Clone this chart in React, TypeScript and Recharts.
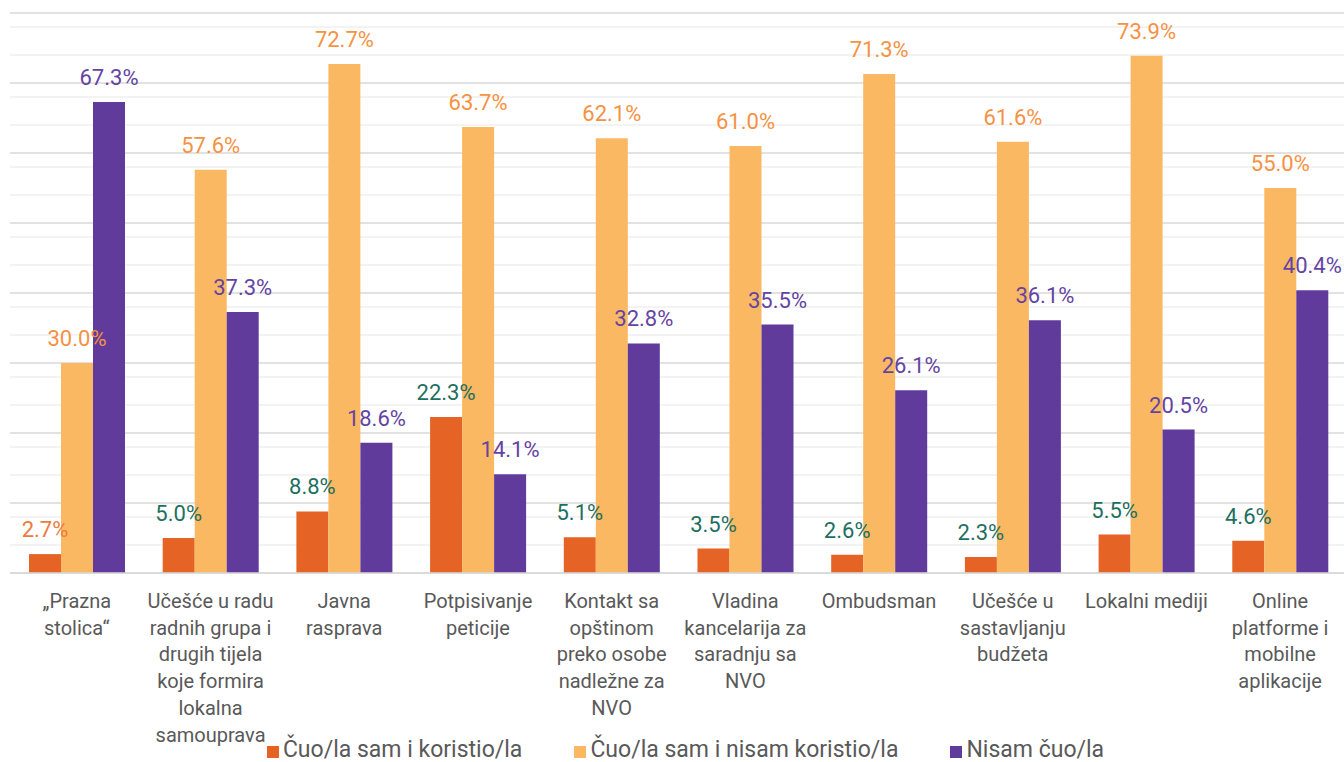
import { BarChart, Bar, XAxis, YAxis, CartesianGrid, Legend, LabelList } from "recharts";

const categories = [
  "„Prazna\nstolica“",
  "Učešće u radu\nradnih grupa i\ndrugih tijela\nkoje formira\nlokalna\nsamouprava",
  "Javna\nrasprava",
  "Potpisivanje\npeticije",
  "Kontakt sa\nopštinom\npreko osobe\nnadležne za\nNVO",
  "Vladina\nkancelarija za\nsaradnju sa\nNVO",
  "Ombudsman",
  "Učešće u\nsastavljanju\nbudžeta",
  "Lokalni mediji",
  "Online\nplatforme i\nmobilne\naplikacije",
];

const seriesNames = ["Čuo/la sam i koristio/la", "Čuo/la sam i nisam koristio/la", "Nisam čuo/la"];
const usedValues = [2.7, 5.0, 8.8, 22.3, 5.1, 3.5, 2.6, 2.3, 5.5, 4.6];
const heardValues = [30.0, 57.6, 72.7, 63.7, 62.1, 61.0, 71.3, 61.6, 73.9, 55.0];
const notHeardValues = [67.3, 37.3, 18.6, 14.1, 32.8, 35.5, 26.1, 36.1, 20.5, 40.4];

const majorTicks = [0, 10, 20, 30, 40, 50, 60, 70, 80];
const minorTicks = [
  2, 4, 6, 8, 12, 14, 16, 18, 22, 24, 26, 28, 32, 34, 36, 38,
  42, 44, 46, 48, 52, 54, 56, 58, 62, 64, 66, 68, 72, 74, 76, 78,
];

const barColors = ["#E56324", "#FBB862", "#603B9B"];
const labelColors = ["#1E6F5F", "#F59243", "#6444A3"];
const FONT = "Roboto, 'DejaVu Sans', sans-serif";

const data = categories.map((c, i) => ({
  category: c,
  used: usedValues[i],
  heard: heardValues[i],
  notHeard: notHeardValues[i],
}));

function makeLabel(series: number) {
  return (props: any) => {
    const { x, y, width, value, index } = props;
    let color = labelColors[series];
    if (series === 0 && index === 0) color = "#EE7B3C";
    return (
      <text
        x={Number(x) + Number(width) / 2}
        y={Number(y) - 17}
        textAnchor="middle"
        fill={color}
        fontSize={22}
        fontFamily={FONT}
      >
        {Number(value).toFixed(1)}%
      </text>
    );
  };
}

function CategoryTick(props: any) {
  const { x, y, payload } = props;
  const lines = String(payload.value).split("\n");
  return (
    <text x={x} y={y + 33} textAnchor="middle" fill="#595959" fontSize={20} fontFamily={FONT}>
      {lines.map((l, i) => (
        <tspan key={i} x={x} dy={i === 0 ? 0 : 26.7}>
          {l}
        </tspan>
      ))}
    </text>
  );
}

function LegendContent() {
  return (
    <div
      style={{
        display: "flex",
        justifyContent: "center",
        gap: 52,
        height: 28,
        boxSizing: "border-box",
        paddingLeft: 14,
        paddingTop: 3,
        fontFamily: FONT,
        fontSize: 23,
        color: "#595959",
        alignItems: "center",
      }}
    >
      {seriesNames.map((n, i) => (
        <div key={n} style={{ display: "flex", alignItems: "center", gap: 4 }}>
          <span style={{ width: 12, height: 12, background: barColors[i], display: "inline-block", marginTop: 5 }} />
          <span>{n}</span>
        </div>
      ))}
    </div>
  );
}

export default function App() {
  return (
    <div style={{ position: "absolute", left: 0, top: 0, width: 1344, height: 762, overflow: "hidden", background: "#fff" }}>
      <BarChart
        width={1347}
        height={762}
        data={data}
        margin={{ top: 13, right: 0, left: 10, bottom: 0 }}
        barSize={32}
        barGap={0}
        style={{ fontFamily: FONT }}
      >
        <YAxis hide domain={[0, 80]} ticks={majorTicks} />
        <CartesianGrid vertical={false} horizontalValues={minorTicks} stroke="#EFEFEF" strokeWidth={1.3} />
        <CartesianGrid vertical={false} horizontalValues={majorTicks} stroke="#D9D9D9" strokeWidth={1.3} />
        <XAxis
          dataKey="category"
          interval={0}
          height={161}
          tickLine={false}
          tickSize={0}
          axisLine={{ stroke: "#D9D9D9", strokeWidth: 1.3 }}
          tick={<CategoryTick />}
        />
        <Legend verticalAlign="bottom" content={<LegendContent />} />
        <Bar dataKey="used" name={seriesNames[0]} fill={barColors[0]} isAnimationActive={false}>
          <LabelList dataKey="used" content={makeLabel(0)} />
        </Bar>
        <Bar dataKey="heard" name={seriesNames[1]} fill={barColors[1]} isAnimationActive={false}>
          <LabelList dataKey="heard" content={makeLabel(1)} />
        </Bar>
        <Bar dataKey="notHeard" name={seriesNames[2]} fill={barColors[2]} isAnimationActive={false}>
          <LabelList dataKey="notHeard" content={makeLabel(2)} />
        </Bar>
      </BarChart>
    </div>
  );
}
